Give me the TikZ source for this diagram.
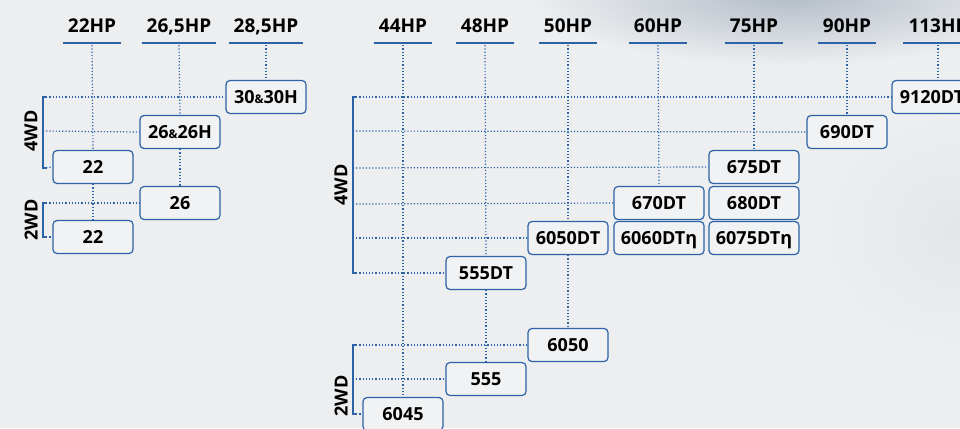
\documentclass[tikz,border=0pt]{standalone}
\usepackage{fontspec}
\setsansfont{Open Sans}
\usetikzlibrary{positioning}
\definecolor{lineblue}{HTML}{2B63A6}
\definecolor{bgcol}{HTML}{ECEEF0}
\definecolor{skycol}{HTML}{B3BCC6}
\definecolor{boxfill}{HTML}{F1F2F4}
\pgfdeclarelayer{back}
\pgfdeclarelayer{lines}
\pgfsetlayers{back,lines,main}
\tikzset{
	hp/.style={anchor=base, inner xsep=5pt, inner ysep=0pt, text depth=0pt,
		font=\sffamily\bfseries\fontsize{19}{20}\selectfont},
	bar/.style={lineblue, line width=2.4pt},
	dots/.style={lineblue, line width=1.2pt, dash pattern=on 1.2pt off 2pt},
	bracket/.style={lineblue, line width=2pt},
	model/.style={draw=lineblue, fill=boxfill, line width=1.2pt, rounded corners=4pt,
		minimum width=80pt, minimum height=33pt, inner sep=0pt, text height=13pt, text depth=0pt,
		font=\sffamily\bfseries\fontsize{18}{20}\selectfont},
	wide/.style={model, minimum width=90pt},
	wd/.style={rotate=90, inner sep=0pt, font=\sffamily\bfseries\fontsize{18}{20}\selectfont}
}
\newcommand{\amp}{{\fontsize{12}{12}\selectfont\&}}
\begin{document}
\begin{tikzpicture}[x=1pt, y=-1pt]
		\useasboundingbox (0,0) rectangle (960,428);
		
		%%%%% BACKGROUND %%%%%
		\begin{pgfonlayer}{back}
			\clip (0,0) rectangle (960,428);
			\fill[bgcol] (0,0) rectangle (960,428);
			\shade[inner color=skycol, outer color=bgcol] (790,-5) ellipse (260 and 70);
			\shade[inner color=bgcol!85!skycol, outer color=bgcol] (960,230) ellipse (140 and 120);
		\end{pgfonlayer}
		
		%%%%% HEADERS %%%%%
		\node[hp] (hp22) at (92,33) {22HP};
		\node[hp] (hp265) at (179,33) {26,5HP};
		\node[hp] (hp285) at (266,33) {28,5HP};
		\node[hp] (hp44) at (403,33) {44HP};
		\node[hp] (hp48) at (485,33) {48HP};
		\node[hp] (hp50) at (568,33) {50HP};
		\node[hp] (hp60) at (658,33) {60HP};
		\node[hp] (hp75) at (754,33) {75HP};
		\node[hp] (hp90) at (847,33) {90HP};
		\node[hp] (hp113) at (938,33) {113HP};
		
		\draw[bar] ([yshift=-10pt]hp22.south west) -- ([yshift=-10pt]hp22.south east);
		\draw[bar] ([yshift=-10pt]hp265.south west) -- ([yshift=-10pt]hp265.south east);
		\draw[bar] ([yshift=-10pt]hp285.south west) -- ([yshift=-10pt]hp285.south east);
		\draw[bar] ([yshift=-10pt]hp44.south west) -- ([yshift=-10pt]hp44.south east);
		\draw[bar] ([yshift=-10pt]hp48.south west) -- ([yshift=-10pt]hp48.south east);
		\draw[bar] ([yshift=-10pt]hp50.south west) -- ([yshift=-10pt]hp50.south east);
		\draw[bar] ([yshift=-10pt]hp60.south west) -- ([yshift=-10pt]hp60.south east);
		\draw[bar] ([yshift=-10pt]hp75.south west) -- ([yshift=-10pt]hp75.south east);
		\draw[bar] ([yshift=-10pt]hp90.south west) -- ([yshift=-10pt]hp90.south east);
		\draw[bar] ([yshift=-10pt]hp113.south west) -- ([yshift=-10pt]hp113.south east);
		
		%%%%% BRACKETS %%%%%
		\coordinate (la1) at (43,97);
		\coordinate (la2) at (43,131);
		\coordinate (la3) at (43,168);
		\coordinate (lb1) at (43,203);
		\coordinate (lb2) at (43,237);
		
		\coordinate (ra1) at (353,97);
		\coordinate (ra2) at (353,131);
		\coordinate (ra3) at (353,168);
		\coordinate (ra4) at (353,204);
		\coordinate (ra5) at (353,238);
		\coordinate (ra6) at (353,273);
		\coordinate (rb1) at (353,345);
		\coordinate (rb2) at (353,379);
		\coordinate (rb3) at (353,414);
		
		%%%%% MODELS %%%%%
		\node[model] (m30) at (266,97) {30\amp30H};
		\node[model] (m26h) at (180,132) {26\amp26H};
		\node[model] (m22a) at (93,167) {22};
		\node[model] (m26) at (180,203) {26};
		\node[model] (m22b) at (93,237) {22};
		
		\node[model] (m9120) at (932,97) {9120DT};
		\node[model] (m690) at (847,132) {690DT};
		\node[wide] (m675) at (754,167) {675DT};
		\node[wide] (m670) at (659,203) {670DT};
		\node[wide] (m680) at (754,203) {680DT};
		\node[model] (m6050dt) at (568,238) {6050DT};
		\node[wide] (m6060) at (659,238) {6060DTη};
		\node[wide] (m6075) at (754,238) {6075DTη};
		\node[model] (m555dt) at (486,273) {555DT};
		\node[model] (m6050) at (568,345) {6050};
		\node[model] (m555) at (486,379) {555};
		\node[model] (m6045) at (403,414) {6045};
		
		%%%%% DOTTED LINES %%%%%
		\begin{pgfonlayer}{lines}
			\draw[dots] ([yshift=-12pt]hp22.south) -- (m22a.north);
			\draw[dots] (m22a.south) -- (m22b.north);
			\draw[dots] ([yshift=-12pt]hp265.south) -- (m26h.north);
			\draw[dots] (m26h.south) -- (m26.north);
			\draw[dots] ([yshift=-12pt]hp285.south) -- (m30.north);
			
			\draw[dots] ([yshift=-12pt]hp44.south) -- (m6045.north);
			\draw[dots] ([yshift=-12pt]hp48.south) -- (m555dt.north);
			\draw[dots] (m555dt.south) -- (m555.north);
			\draw[dots] ([yshift=-12pt]hp50.south) -- (m6050dt.north);
			\draw[dots] (m6050dt.south) -- (m6050.north);
			\draw[dots] ([yshift=-12pt]hp60.south) -- (m670.north);
			\draw[dots] ([yshift=-12pt]hp75.south) -- (m675.north);
			\draw[dots] ([yshift=-12pt]hp90.south) -- (m690.north);
			\draw[dots] ([yshift=-12pt]hp113.south) -- (hp113 |- m9120.north);
			
			\draw[dots] (la1) -- (m30.west);
			\draw[dots] (la2) -- (m26h.west);
			\draw[dots] (la3) -- (m22a.west);
			\draw[dots] (lb1) -- (m26.west);
			\draw[dots] (lb2) -- (m22b.west);
			
			\draw[dots] (ra1) -- (m9120.west);
			\draw[dots] (ra2) -- (m690.west);
			\draw[dots] (ra3) -- (m675.west);
			\draw[dots] (ra4) -- (m670.west);
			\draw[dots] (ra5) -- (m6050dt.west);
			\draw[dots] (ra6) -- (m555dt.west);
			\draw[dots] (rb1) -- (m6050.west);
			\draw[dots] (rb2) -- (m555.west);
			\draw[dots] (rb3) -- (m6045.west);
		\end{pgfonlayer}
		
		%%%%% 4WD / 2WD %%%%%
		\draw[bracket] ([xshift=4pt]la1) -- (la1) -- (la3) -- ([xshift=4pt]la3);
		\draw[bracket] ([xshift=4pt]lb1) -- (lb1) -- (lb2) -- ([xshift=4pt]lb2);
		\draw[bracket] ([xshift=4pt]ra1) -- (ra1) -- (ra6) -- ([xshift=4pt]ra6);
		\draw[bracket] ([xshift=4pt]rb1) -- (rb1) -- (rb3) -- ([xshift=4pt]rb3);
		
		\node[wd] (wd4l) at (31,131) {4WD};
		\node[wd] (wd2l) at (31,220) {2WD};
		\node[wd] (wd4r) at (341,185) {4WD};
		\node[wd] (wd2r) at (341,396) {2WD};
\end{tikzpicture}
\end{document}
